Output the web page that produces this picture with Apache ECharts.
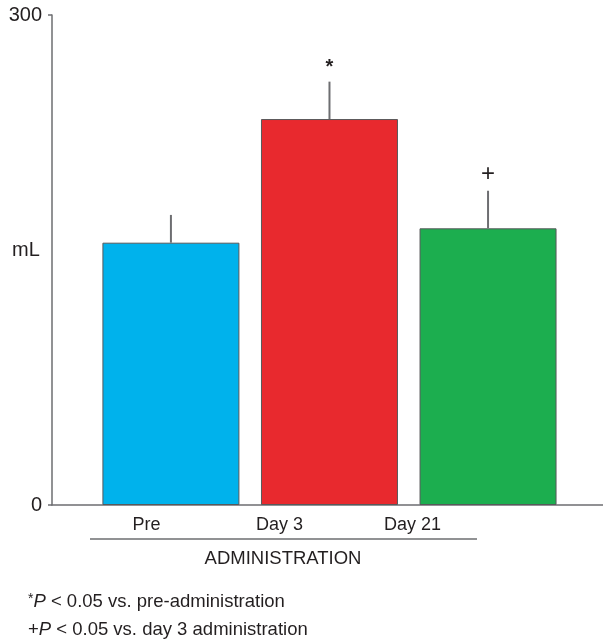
<!DOCTYPE html>
<html>
<head>
<meta charset="utf-8">
<script src="https://cdn.jsdelivr.net/npm/echarts@6/dist/echarts.min.js"></script>
<style>
  html, body { margin: 0; padding: 0; background: #fff; }
  #chart { width: 603px; height: 644px; }
</style>
</head>
<body>
<div id="chart"></div>
<script>
// Residual volume (mL) before and after administration
const categories = ['Pre', 'Day 3', 'Day 21'];
const means = [160.6, 236.3, 169.4];
const errorTops = [177.6, 259.2, 192.4];
const marks = ['', '*', '+'];
const barColors = ['#00b2ec', '#e8292e', '#1cae4f'];
const yTicks = [0, 300];

const FONT = '"Liberation Sans", Arial, Helvetica, sans-serif';
const TEXT = '#231f20';
const AXIS = '#6d6e71';

const chart = echarts.init(document.getElementById('chart'));

const barData = means.map((v, i) => ({
  value: [i, v],
  itemStyle: { color: barColors[i] }
}));
const errData = means.map((v, i) => [i, v, errorTops[i], marks[i]]);

chart.setOption({
  animation: false,
  grid: [
    { left: 52, right: 0, top: 15, bottom: 139 },
    { left: 80, width: 399, top: 500, height: 5 }
  ],
  xAxis: [
    {
      gridIndex: 0, type: 'value', min: -0.75, max: 2.725,
      axisLine: { show: true, onZero: false, lineStyle: { color: AXIS, width: 1.5 } },
      axisTick: { show: false }, axisLabel: { show: false }, splitLine: { show: false }
    },
    {
      gridIndex: 1, type: 'category', data: categories,
      axisLine: { show: false }, axisTick: { show: false },
      axisLabel: { margin: 11, fontSize: 18, fontFamily: FONT, color: TEXT }
    }
  ],
  yAxis: [
    {
      gridIndex: 0, type: 'value', min: yTicks[0], max: yTicks[1], interval: yTicks[1] - yTicks[0],
      axisLine: { show: true, onZero: false, lineStyle: { color: AXIS, width: 1.5 } },
      axisTick: { show: true, length: 4, lineStyle: { color: AXIS, width: 1.5 } },
      axisLabel: { margin: 10, fontSize: 20, fontFamily: FONT, color: TEXT },
      splitLine: { show: false }
    },
    { gridIndex: 1, type: 'value', show: false }
  ],
  series: [
    {
      type: 'bar', xAxisIndex: 0, yAxisIndex: 0,
      barWidth: 137,
      data: barData,
      itemStyle: { borderColor: '#58595b', borderWidth: 1 },
      z: 2
    },
    {
      type: 'custom', xAxisIndex: 0, yAxisIndex: 0,
      data: errData,
      z: 3,
      renderItem: function (params, api) {
        const base = api.coord([api.value(0), api.value(1)]);
        const top = api.coord([api.value(0), api.value(2)]);
        const mark = marks[params.dataIndex];
        const children = [{
          type: 'line',
          shape: { x1: base[0], y1: base[1], x2: top[0], y2: top[1] },
          style: { stroke: '#6d6e71', lineWidth: 2 }
        }];
        if (mark) {
          children.push({
            type: 'text',
            style: {
              text: mark, x: top[0], y: top[1] - (mark === '*' ? 14 : 16),
              align: 'center', verticalAlign: 'middle',
              font: (mark === '*' ? 'bold 20px ' : '24px ') + FONT, fill: TEXT
            }
          });
        }
        return { type: 'group', children: children };
      }
    }
  ],
  graphic: [
    {
      type: 'text', left: 12, top: 240,
      style: { text: 'mL', font: '20px ' + FONT, fill: TEXT }
    },
    {
      type: 'line',
      shape: { x1: 90, y1: 539, x2: 477, y2: 539 },
      style: { stroke: AXIS, lineWidth: 1.5 }
    },
    {
      type: 'text', x: 283, y: 559,
      style: { text: 'ADMINISTRATION', font: '18.5px ' + FONT, fill: TEXT, align: 'center', verticalAlign: 'middle' }
    },
    {
      type: 'text', x: 28, y: 602,
      style: {
        text: '{s|*}{i|P}{n| < 0.05 vs. pre-administration}',
        verticalAlign: 'middle',
        rich: {
          s: { fontSize: 14, fontFamily: FONT, fill: TEXT, verticalAlign: 'top' },
          i: { fontSize: 18.5, fontFamily: FONT, fontStyle: 'italic', fill: TEXT },
          n: { fontSize: 18.5, fontFamily: FONT, fill: TEXT }
        }
      }
    },
    {
      type: 'text', x: 28, y: 630,
      style: {
        text: '{n|+}{i|P}{n| < 0.05 vs. day 3 administration}',
        verticalAlign: 'middle',
        rich: {
          i: { fontSize: 18.5, fontFamily: FONT, fontStyle: 'italic', fill: TEXT },
          n: { fontSize: 18.5, fontFamily: FONT, fill: TEXT }
        }
      }
    }
  ]
});
</script>
</body>
</html>
